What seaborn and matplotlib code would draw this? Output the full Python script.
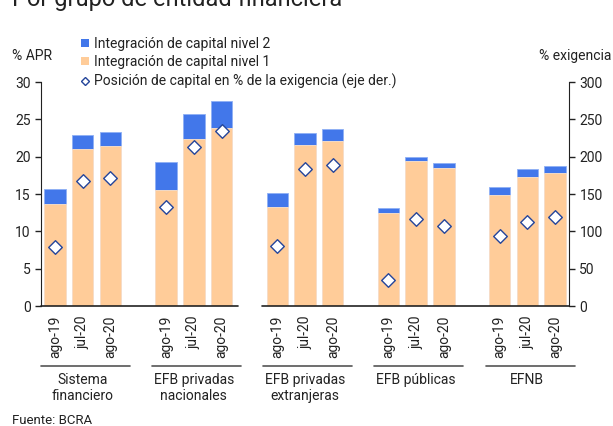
import pandas as pd
import matplotlib.pyplot as plt
import seaborn as sns
from matplotlib.patches import Patch
from matplotlib.lines import Line2D
import matplotlib.transforms as mtransforms

# datos
grupos = ["Sistema\nfinanciero", "EFB privadas\nnacionales", "EFB privadas\nextranjeras",
          "EFB públicas", "EFNB"]
periodos = ["ago-19", "jul-20", "ago-20"]
nivel1 = [13.7, 21.0, 21.4, 15.5, 22.3, 23.9, 13.3, 21.5, 22.1, 12.4, 19.4, 18.5, 14.8, 17.3, 17.8]
total = [15.7, 22.9, 23.3, 19.3, 25.7, 27.4, 15.1, 23.2, 23.7, 13.1, 20.0, 19.1, 15.9, 18.3, 18.8]
posicion = [79, 168, 172, 133, 213, 234, 81, 183, 189, 35, 117, 107, 94, 113, 119]

AZUL = "#4277EA"
NARANJA = "#FFCC99"
BORDE = "#24459A"
TXT = "#222222"

sns.set_style("ticks")
plt.rcParams['font.family'] = ['Roboto', 'DejaVu Sans']
plt.rcParams['font.size'] = 10
plt.rcParams['text.color'] = TXT
plt.rcParams['axes.labelcolor'] = TXT
plt.rcParams['xtick.color'] = TXT
plt.rcParams['ytick.color'] = TXT

pos = [g * 4 + j for g in range(len(grupos)) for j in range(len(periodos))]
df = pd.DataFrame({
    'pos': pos,
    'periodo': periodos * len(grupos),
    'total': total,
    'nivel1': nivel1,
    'posicion': posicion,
})

fig = plt.figure(figsize=(6.13, 4.26), dpi=100)
ax = fig.add_axes([41 / 613, 1 - 306 / 426, 528 / 613, 224 / 426])

sns.barplot(data=df, x='pos', y='total', native_scale=True, width=0.77, color=AZUL,
            saturation=1, edgecolor="#8FB0F5", linewidth=0.6, ax=ax)
sns.barplot(data=df, x='pos', y='nivel1', native_scale=True, width=0.77, color=NARANJA,
            saturation=1, edgecolor="#FFE3C8", linewidth=0.6, ax=ax)

ax2 = ax.twinx()
sns.scatterplot(data=df, x='pos', y='posicion', marker='D', s=48, color='white',
                edgecolor=BORDE, linewidth=1.0, zorder=5, ax=ax2, legend=False)

ax.set_xlim(-0.5, 18.5)
ax.set_ylim(0, 30)
ax2.set_ylim(0, 300)
ax.set_yticks(range(0, 31, 5))
ax2.set_yticks(range(0, 301, 50))
ax.set_xticks(pos, df['periodo'], rotation=90)
ax.tick_params(axis='x', length=0, pad=7)
ax.tick_params(axis='y', length=4, width=1, direction='out')
ax2.tick_params(axis='y', length=4, width=1, direction='out')
ax.set_xlabel('')
ax.set_ylabel('')
ax2.set_xlabel('')
ax2.set_ylabel('')

for a in (ax, ax2):
    a.spines['top'].set_visible(False)
    a.spines['bottom'].set_visible(False)
    a.spines['left'].set_color(TXT)
    a.spines['right'].set_color(TXT)
ax.spines['right'].set_visible(False)
ax2.spines['left'].set_visible(False)

# linea del eje x (cortada)
trans = mtransforms.blended_transform_factory(ax.transData, ax.transAxes)
ax.plot([-0.5, 6.58], [0, 0], color=TXT, lw=1.2, transform=trans, clip_on=False)
ax.plot([7.45, 18.5], [0, 0], color=TXT, lw=1.2, transform=trans, clip_on=False)

# etiquetas de grupo
for g, nombre in enumerate(grupos):
    c = g * 4 + 1
    ax.plot([c - 1.5, c + 1.7], [-0.268, -0.268], color="#555555", lw=1.2,
            transform=trans, clip_on=False)
    ax.text(c, -0.30, nombre, ha='center', va='top', fontsize=10,
            linespacing=1.15, transform=trans)

handles = [Patch(facecolor=AZUL, edgecolor='none'),
           Patch(facecolor=NARANJA, edgecolor='none'),
           Line2D([], [], marker='D', ls='none', markerfacecolor='white',
                  markeredgecolor=BORDE, markersize=4.5, markeredgewidth=1.0)]
labels = ["Integración de capital nivel 2", "Integración de capital nivel 1",
          "Posición de capital en % de la exigencia (eje der.)"]
ax2.legend(handles, labels, loc='upper left', bbox_to_anchor=(81 / 613, 1 - 37 / 426),
           bbox_transform=fig.transFigure, frameon=False, fontsize=10,
           handlelength=0.55, handleheight=0.55, handletextpad=0.35,
           labelspacing=0.3, borderaxespad=0, borderpad=0)

fig.text(12 / 613, 1 - 56 / 426, "% APR", ha='left', va='center', fontsize=10)
fig.text(1 - 2 / 613, 1 - 56 / 426, "% exigencia", ha='right', va='center', fontsize=10)
fig.text(12 / 613, 1 - 6 / 426, "Por grupo de entidad financiera", ha='left',
         va='baseline', fontsize=17)
fig.text(12 / 613, 1 - 421 / 426, "Fuente: BCRA", ha='left', va='center', fontsize=9.5)

fig.savefig("out.png", dpi=100)
